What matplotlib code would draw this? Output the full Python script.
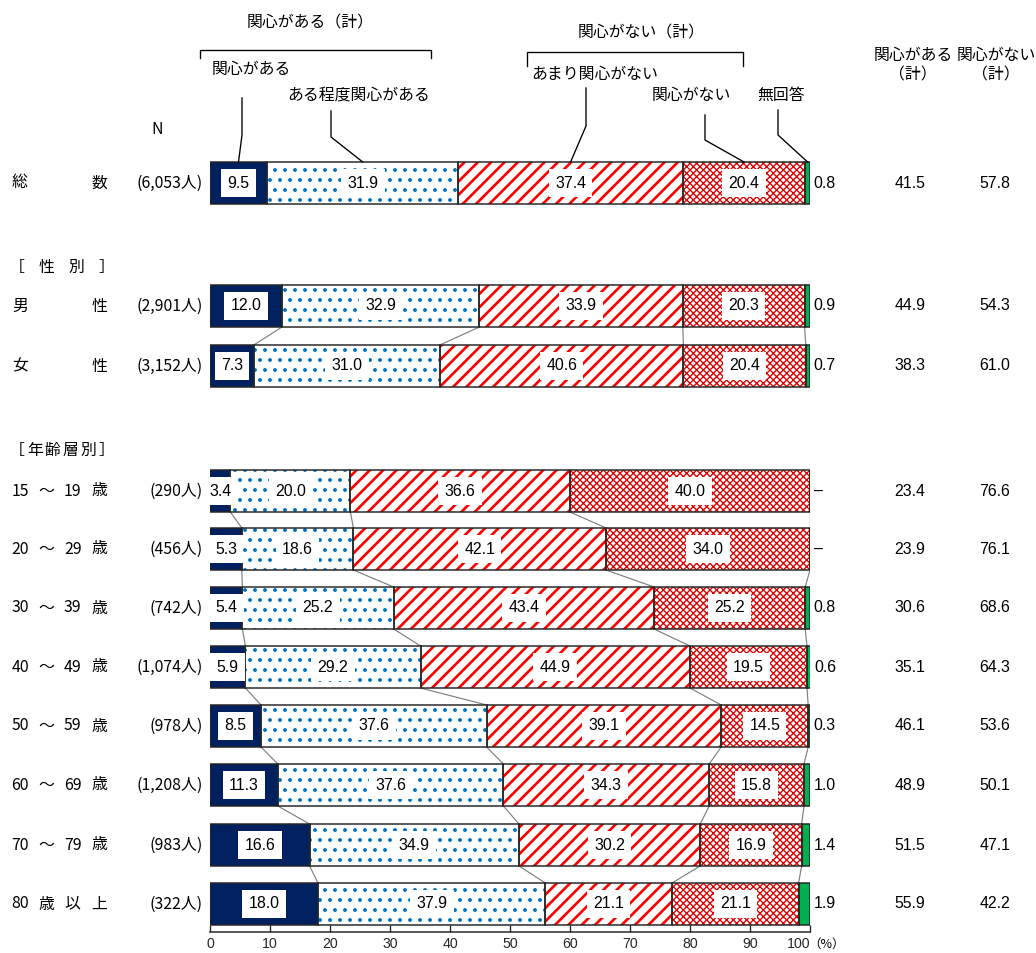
import re
import matplotlib
matplotlib.use('Agg')
import matplotlib.pyplot as plt

plt.rcParams['font.family'] = ['Noto Sans CJK JP', 'DejaVu Sans']
NARROW = ['Liberation Sans Narrow', 'Liberation Sans', 'DejaVu Sans']

# survey rows
labels = ['総数', '男性', '女性', '15～19歳', '20～29歳', '30～39歳', '40～49歳',
          '50～59歳', '60～69歳', '70～79歳', '80歳以上']
counts = ['6,053', '2,901', '3,152', '290', '456', '742', '1,074', '978',
          '1,208', '983', '322']

# answer shares (%)
very = [9.5, 12.0, 7.3, 3.4, 5.3, 5.4, 5.9, 8.5, 11.3, 16.6, 18.0]
somewhat = [31.9, 32.9, 31.0, 20.0, 18.6, 25.2, 29.2, 37.6, 37.6, 34.9, 37.9]
not_much = [37.4, 33.9, 40.6, 36.6, 42.1, 43.4, 44.9, 39.1, 34.3, 30.2, 21.1]
not_at_all = [20.4, 20.3, 20.4, 40.0, 34.0, 25.2, 19.5, 14.5, 15.8, 16.9, 21.1]
no_answer = [0.8, 0.9, 0.7, 0.0, 0.0, 0.8, 0.6, 0.3, 1.0, 1.4, 1.9]

# combined totals
interested = [41.5, 44.9, 38.3, 23.4, 23.9, 30.6, 35.1, 46.1, 48.9, 51.5, 55.9]
not_interested = [57.8, 54.3, 61.0, 76.6, 76.1, 68.6, 64.3, 53.6, 50.1, 47.1, 42.2]

series_names = ['関心がある', 'ある程度関心がある', 'あまり関心がない', '関心がない', '無回答']

# layout in pixels (y measured from the top)
W, H = 1036, 953
DPI = 120
row_y = [183, 306, 366, 491, 549, 608, 667, 726, 785, 845, 904]
groups = [[0], [1, 2], [3, 4, 5, 6, 7, 8, 9, 10]]
bar_h = 42

styles = [
    dict(face='#002060', hatch=None, hc=None, hlw=1.0),
    dict(face='white', hatch='..', hc='#0070C0', hlw=1.1),
    dict(face='white', hatch='///', hc='#FF0000', hlw=1.6),
    dict(face='white', hatch='xxxxxx', hc='#E00000', hlw=0.8),
    dict(face='#00B050', hatch=None, hc=None, hlw=1.0),
]

fig = plt.figure(figsize=(W / DPI, H / DPI), dpi=DPI)
ax = fig.add_axes([210 / W, 1 - 932 / H, 600 / W, 932 / H])
ax.set_xlim(0, 100)
ax.set_ylim(932, 0)


def ftext(x, y, s, **kw):
    kw.setdefault('va', 'center')
    return fig.text(x / W, 1 - y / H, s, **kw)


def fline(xs, ys, **kw):
    fig.add_artist(plt.Line2D([x / W for x in xs], [1 - y / H for y in ys], **kw))


def spread(label, y, x0=20, x1=99, size=9.5):
    tokens = re.findall(r'\d+|\S', label)
    n = len(tokens)
    for i, t in enumerate(tokens):
        x = x0 + (x1 - x0) * i / (n - 1) if n > 1 else x0
        ftext(x, y, t, ha='center', fontsize=size)


values = [very, somewhat, not_much, not_at_all, no_answer]
lefts = [[0.0] * len(labels)]
for vals in values[:-1]:
    lefts.append([l + v for l, v in zip(lefts[-1], vals)])

for vals, left, st in zip(values, lefts, styles):
    with plt.rc_context({'hatch.linewidth': st['hlw']}):
        bars = ax.barh(row_y, vals, left=left, height=bar_h, color=st['face'],
                       edgecolor=st['hc'] if st['hc'] else st['face'],
                       linewidth=0, hatch=st['hatch'], zorder=2)
    for p in bars:
        if hasattr(p, 'set_hatch_linewidth'):
            p.set_hatch_linewidth(st['hlw'])
    ax.barh(row_y, vals, left=left, height=bar_h, fill=False,
            edgecolor='#262626', linewidth=0.9, zorder=3)

# value labels inside segments
box = dict(facecolor='white', edgecolor='none', boxstyle='square,pad=0.4')
for vals, left in zip(values[:-1], lefts[:-1]):
    for v, l, y in zip(vals, left, row_y):
        ax.text(l + v / 2, y, f'{v:.1f}', ha='center', va='center',
                family=NARROW, fontsize=9.5, bbox=box, zorder=4)

# no-answer values to the right of the bars
for v, l, y in zip(no_answer, lefts[-1], row_y):
    ax.text(l + v + 0.6, y, f'{v:.1f}' if v > 0 else '–', ha='left',
            va='center', family=NARROW, fontsize=9.5, clip_on=False)

# connecting lines between neighbouring bars
for g in groups:
    for a, b in zip(g[:-1], g[1:]):
        for left in lefts[1:]:
            ax.plot([left[a], left[b]], [row_y[a] + bar_h / 2, row_y[b] - bar_h / 2],
                    color='#7f7f7f', linewidth=0.7, zorder=1)

# x axis
for side in ['top', 'right', 'left']:
    ax.spines[side].set_visible(False)
ax.spines['bottom'].set_color('#262626')
ax.spines['bottom'].set_linewidth(0.9)
ax.set_yticks([])
ax.set_xticks(range(0, 101, 10))
ax.tick_params(axis='x', direction='in', length=4, width=0.8, pad=3,
               labelsize=8.5, colors='#262626')
ticklabels = ax.get_xticklabels()
for t in ticklabels:
    t.set_family(NARROW)
ticklabels[-1].set_ha('right')
ftext(808, 944, '（%）', ha='left', fontsize=7.5)

# row labels and sample sizes
for lab, c, y in zip(labels, counts, row_y):
    spread(lab, y)
    ftext(203, y, f'({c}人)', ha='right', fontsize=9.5)
ftext(157, 130, 'N', ha='center', fontsize=9.5)
spread('［性別］', 267, 17, 106)
spread('［年齢層別］', 450, 17, 106)

# combined totals on the right
ftext(913, 55, '関心がある', ha='center', fontsize=9.5)
ftext(913, 75, '（計）', ha='center', fontsize=9.5)
ftext(996, 55, '関心がない', ha='center', fontsize=9.5)
ftext(996, 75, '（計）', ha='center', fontsize=9.5)
for a, b, y in zip(interested, not_interested, row_y):
    ftext(910, y, f'{a:.1f}', ha='center', family=NARROW, fontsize=9.5)
    ftext(995, y, f'{b:.1f}', ha='center', family=NARROW, fontsize=9.5)

# category legend with callouts to the first bar
callouts = [(212, 69, 242, 98, 135), (287, 95, 331, 111, 137), (531, 74, 586, 88, 126),
            (652, 95, 705, 115, 140), (757, 95, 778, 110, 135)]
for name, vals, left, (tx, ty, vx, y0, y1) in zip(series_names, values, lefts, callouts):
    ftext(tx, ty, name, ha='left', fontsize=9.5)
    end_x = 210 + 6 * (left[0] + vals[0] / 2)
    fline([vx, vx, end_x], [y0, y1, row_y[0] - bar_h / 2], color='black', linewidth=0.8)

# bracket labels for the combined groups
fline([200, 200, 431, 431], [58, 50, 50, 58], color='black', linewidth=0.8)
ftext(310, 23, '関心がある（計）', ha='center', fontsize=9.5)
fline([527, 527, 743, 743], [66, 52, 52, 66], color='black', linewidth=0.8)
ftext(641, 33, '関心がない（計）', ha='center', fontsize=9.5)

fig.savefig('out.png', dpi=DPI)
